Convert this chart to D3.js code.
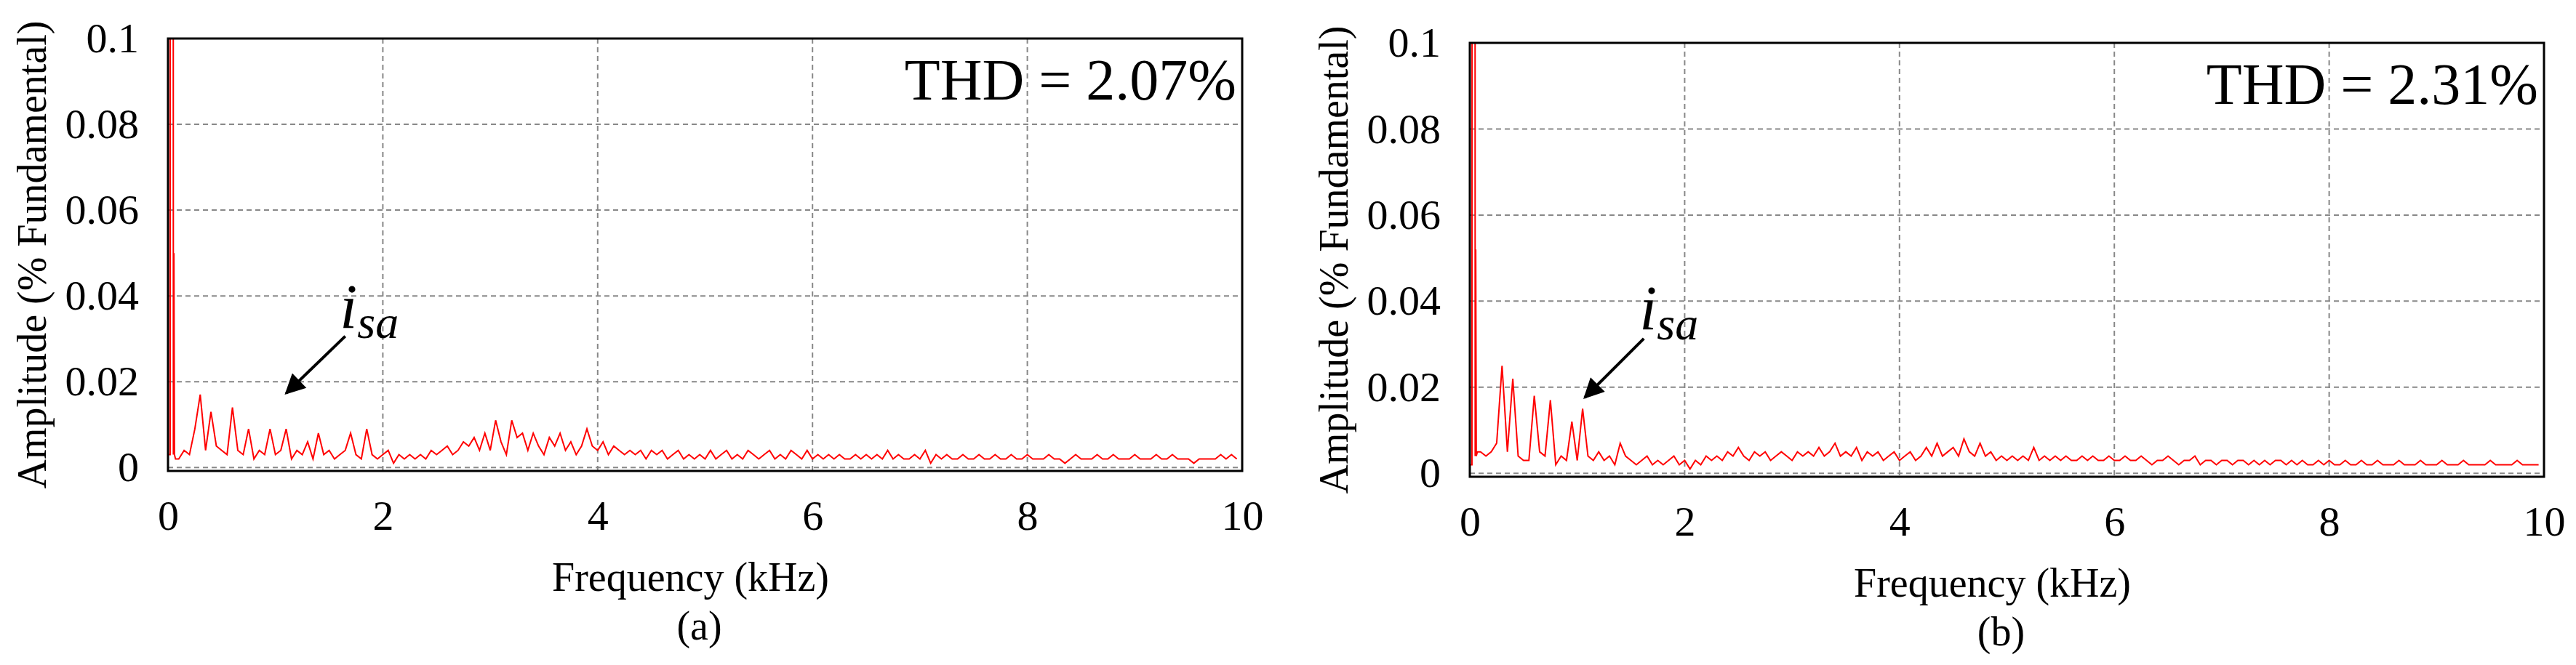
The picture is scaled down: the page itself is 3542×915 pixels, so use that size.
<!DOCTYPE html>
<html><head><meta charset="utf-8">
<script src="https://cdn.jsdelivr.net/npm/d3@7"></script>
<style>body{margin:0;background:#fff}text{font-family:"Liberation Serif","Times New Roman",serif}</style>
</head><body><svg id="c" width="3542" height="915"></svg>
<script>
const xTicks=[0,2,4,6,8,10];
const yTicks=[0,0.02,0.04,0.06,0.08,0.1];
const yTickLabels=["0","0.02","0.04","0.06","0.08","0.1"];
const freqStep=0.05; // kHz per sample for the main spectrum (from 0.15 kHz on)
const lowFreq=[0,0.02,0.03,0.04,0.05,0.055,0.06,0.07,0.1];
const lowA=[0.003,0.003,1.0,1.0,0.003,0.05,0.003,0.002,0.002];
const lowB=[0.002,0.002,1.0,1.0,0.004,0.052,0.004,0.005,0.005];
const ampA=[0.004,0.003,0.009,0.017,0.004,0.013,0.005,0.004,0.003,0.014,0.004,0.003,0.009,0.002,0.004,0.003,
0.009,0.003,0.004,0.009,0.002,0.004,0.003,0.006,0.002,0.008,0.003,0.004,0.002,0.003,0.004,0.008,0.003,0.002,0.009,0.003,
0.002,0.003,0.004,0.001,0.003,0.002,0.003,0.002,0.003,0.002,0.004,0.003,0.004,0.005,0.003,0.004,0.006,0.005,0.007,0.004,
0.008,0.004,0.011,0.006,0.003,0.011,0.007,0.008,0.004,0.008,0.005,0.003,0.007,0.005,0.008,0.004,0.006,0.003,0.005,0.009,
0.005,0.004,0.006,0.003,0.005,0.004,0.003,0.004,0.003,0.004,0.002,0.004,0.003,0.004,0.002,0.003,0.004,0.002,0.003,0.002,
0.003,0.002,0.004,0.002,0.003,0.004,0.002,0.003,0.002,0.004,0.003,0.002,0.003,0.004,0.002,0.003,0.002,0.004,0.003,0.002,
0.004,0.002,0.003,0.002,0.003,0.002,0.003,0.002,0.002,0.003,0.002,0.003,0.002,0.003,0.002,0.004,0.002,0.003,0.002,0.002,
0.003,0.002,0.004,0.001,0.003,0.002,0.003,0.002,0.002,0.003,0.002,0.002,0.003,0.002,0.002,0.003,0.002,0.002,0.003,0.002,
0.002,0.003,0.002,0.002,0.002,0.003,0.002,0.002,0.001,0.002,0.003,0.002,0.002,0.002,0.003,0.002,0.002,0.003,0.002,0.002,
0.002,0.003,0.002,0.002,0.002,0.003,0.002,0.002,0.003,0.002,0.002,0.002,0.001,0.002,0.002,0.002,0.002,0.003,0.002,0.003,0.002];
const ampB=[0.004,0.005,0.007,0.025,0.005,0.022,0.004,0.003,0.003,0.018,0.005,0.004,0.017,0.002,0.004,0.003,
0.012,0.003,0.015,0.004,0.003,0.005,0.003,0.004,0.002,0.007,0.004,0.003,0.002,0.003,0.004,0.002,0.003,0.002,0.003,0.004,
0.002,0.003,0.001,0.003,0.002,0.004,0.003,0.004,0.003,0.005,0.004,0.006,0.004,0.003,0.005,0.004,0.005,0.003,0.004,0.005,
0.004,0.003,0.005,0.004,0.005,0.004,0.006,0.004,0.005,0.007,0.004,0.005,0.004,0.006,0.003,0.005,0.004,0.005,0.003,0.004,
0.005,0.003,0.004,0.005,0.003,0.004,0.006,0.004,0.007,0.004,0.005,0.006,0.004,0.008,0.005,0.004,0.007,0.004,0.005,0.003,
0.004,0.003,0.004,0.003,0.004,0.003,0.006,0.003,0.004,0.003,0.004,0.003,0.004,0.003,0.003,0.004,0.003,0.004,0.003,0.003,
0.004,0.003,0.003,0.004,0.003,0.003,0.004,0.003,0.002,0.003,0.003,0.004,0.003,0.002,0.003,0.003,0.004,0.002,0.003,0.003,
0.002,0.003,0.003,0.002,0.003,0.003,0.002,0.003,0.002,0.003,0.002,0.003,0.003,0.002,0.003,0.002,0.003,0.002,0.002,0.003,
0.002,0.003,0.002,0.002,0.003,0.002,0.002,0.003,0.002,0.002,0.003,0.002,0.002,0.002,0.003,0.002,0.002,0.002,0.003,0.002,
0.002,0.002,0.003,0.002,0.002,0.002,0.003,0.002,0.002,0.002,0.002,0.003,0.002,0.002,0.002,0.002,0.003,0.002,0.002,0.002,0.002];
const panels=[
 {low:lowA,amp:ampA,thd:"THD = 2.07%",tag:"(a)",left:231,right:1708,top:53,bottom:648,arrow:[[1.65,0.0306],[1.10,0.0173]],lab:[1.6,0.0325]},
 {low:lowB,amp:ampB,thd:"THD = 2.31%",tag:"(b)",left:2021,right:3498,top:59,bottom:656,arrow:[[1.62,0.0313],[1.07,0.0176]],lab:[1.58,0.0335]}
];
const svg=d3.select("#c");
svg.append("defs").append("marker").attr("id","ah").attr("viewBox","0 0 10 10").attr("refX",9).attr("refY",5)
 .attr("markerWidth",40).attr("markerHeight",28).attr("markerUnits","userSpaceOnUse").attr("orient","auto")
 .append("path").attr("d","M0,0L10,5L0,10z").attr("fill","#000");
panels.forEach((p,k)=>{
 const x=d3.scaleLinear().domain([0,10]).range([p.left,p.right]);
 const y=d3.scaleLinear().domain([-0.0008,0.1]).range([p.bottom,p.top]);
 const pts=p.low.map((v,i)=>[lowFreq[i],v]).concat(p.amp.map((v,i)=>[(i+3)*freqStep,v]));
 const g=svg.append("g");
 g.append("clipPath").attr("id","cl"+k).append("rect").attr("x",p.left).attr("y",p.top).attr("width",p.right-p.left).attr("height",p.bottom-p.top);
 g.selectAll(".gx").data(xTicks.slice(1,-1)).join("line").attr("x1",d=>x(d)).attr("x2",d=>x(d)).attr("y1",p.top).attr("y2",p.bottom)
  .attr("stroke","#888").attr("stroke-width",2).attr("stroke-dasharray","7,5");
 g.selectAll(".gy").data(yTicks).join("line").attr("y1",d=>y(d)).attr("y2",d=>y(d)).attr("x1",p.left).attr("x2",p.right)
  .attr("stroke","#888").attr("stroke-width",2).attr("stroke-dasharray","7,5");
 const line=d3.line().x(d=>x(d[0])).y(d=>y(d[1]));
 g.append("path").datum(pts).attr("d",line).attr("fill","none").attr("stroke","#ff0000").attr("stroke-width",2)
  .attr("clip-path",`url(#cl${k})`);
 g.append("rect").attr("x",p.left).attr("y",p.top).attr("width",p.right-p.left).attr("height",p.bottom-p.top)
  .attr("fill","none").attr("stroke","#000").attr("stroke-width",3);
 g.append("g").attr("transform",`translate(0,${p.bottom})`).call(d3.axisBottom(x).tickValues(xTicks).tickSize(0).tickPadding(40).tickFormat(d3.format("d")))
  .call(a=>{a.attr("font-family",null);a.select(".domain").remove();a.selectAll("text").attr("font-size",58).attr("fill","#000");});
 g.append("g").attr("transform",`translate(${p.left},0)`).call(d3.axisLeft(y).tickValues(yTicks).tickSize(0).tickPadding(40).tickFormat((d,i)=>yTickLabels[i]))
  .call(a=>{a.attr("font-family",null);a.select(".domain").remove();a.selectAll("text").attr("font-size",58).attr("fill","#000");});
 const cx=(p.left+p.right)/2;
 g.append("text").attr("x",cx-20).attr("y",p.bottom+165).attr("text-anchor","middle").attr("font-size",56).text("Frequency (kHz)");
 g.append("text").attr("x",cx-8).attr("y",p.bottom+232).attr("text-anchor","middle").attr("font-size",56).text(p.tag);
 g.append("text").attr("transform",`translate(${p.left-168},${(p.top+p.bottom)/2}) rotate(-90)`).attr("text-anchor","middle").attr("font-size",56).text("Amplitude (% Fundamental)");
 g.append("text").attr("x",p.right-8).attr("y",p.top+84).attr("text-anchor","end").attr("font-size",80).text(p.thd);
 g.append("line").attr("x1",x(p.arrow[0][0])).attr("y1",y(p.arrow[0][1])).attr("x2",x(p.arrow[1][0])).attr("y2",y(p.arrow[1][1]))
  .attr("stroke","#000").attr("stroke-width",4).attr("marker-end","url(#ah)");
 const t=g.append("text").attr("x",x(p.lab[0])).attr("y",y(p.lab[1])).attr("font-style","italic").attr("font-size",86);
 t.append("tspan").text("i");
 t.append("tspan").attr("font-size",64).attr("dy",14).text("sa");
});
</script></body></html>
